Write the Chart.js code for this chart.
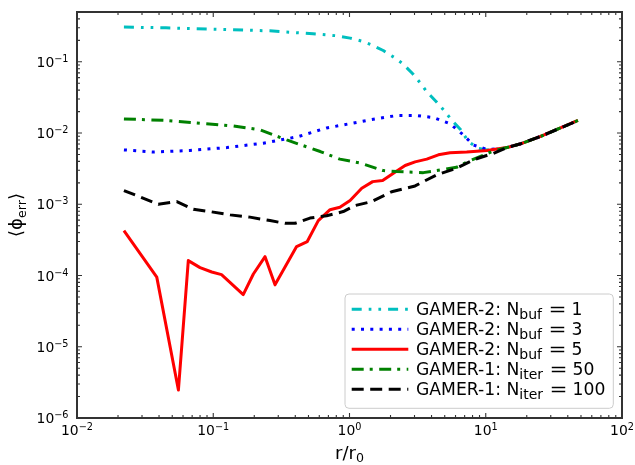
<!DOCTYPE html>
<html>
<head>
<meta charset="utf-8">
<script src="https://cdn.jsdelivr.net/npm/chart.js@4/dist/chart.umd.min.js"></script>
<style>
  html, body { margin: 0; padding: 0; background: #fff; }
  canvas { display: block; }
</style>
</head>
<body>
<canvas id="chart" width="635" height="465"></canvas>
<script>
// axis ranges and decade ticks
const xRange = [0.01, 100];
const yRange = [1e-6, 0.5];
const xTickExps = [-2, -1, 0, 1, 2];
const yTickExps = [-6, -5, -4, -3, -2, -1];

// GAMER-2, N_buf = 1
const rCyan = [0.0221, 0.045, 0.14, 0.26, 0.54, 0.805, 1.01, 1.26, 1.45, 1.77, 2.16, 2.46, 2.91, 3.35, 3.69, 4.32, 5.02, 5.53, 6.55, 7.45, 8.82, 10.2, 12.7];
const phiCyan = [0.307, 0.300, 0.281, 0.272, 0.247, 0.232, 0.215, 0.193, 0.173, 0.144, 0.113, 0.094, 0.068, 0.049, 0.038, 0.0277, 0.020, 0.0158, 0.0111, 0.0076, 0.0061, 0.0058, 0.0060];

// GAMER-2, N_buf = 3
const rBlue = [0.0221, 0.0363, 0.0675, 0.126, 0.233, 0.42, 0.68, 0.90, 1.41, 2.22, 3.11, 4.12, 5.47, 6.85, 8.1, 10.2, 12.7];
const phiBlue = [0.0058, 0.0054, 0.0057, 0.00625, 0.0072, 0.0089, 0.0118, 0.0130, 0.0153, 0.0176, 0.0176, 0.0165, 0.0135, 0.0094, 0.0068, 0.0059, 0.0060];

// GAMER-2, N_buf = 5
const rRed = [0.0221, 0.0385, 0.0555, 0.0656, 0.080, 0.0975, 0.115, 0.166, 0.197, 0.240, 0.284, 0.409, 0.49, 0.59, 0.72, 0.85, 1.01, 1.23, 1.48, 1.75, 2.10, 2.56, 3.03, 3.69, 4.49, 5.47, 7.25, 10.2];
const phiRed = [4.27e-4, 9.5e-5, 2.47e-6, 1.62e-4, 1.29e-4, 1.12e-4, 1.03e-4, 5.4e-5, 1.05e-4, 1.84e-4, 7.4e-5, 2.55e-4, 3.0e-4, 5.9e-4, 8.4e-4, 9.1e-4, 1.13e-3, 1.68e-3, 2.08e-3, 2.15e-3, 2.73e-3, 3.5e-3, 3.94e-3, 4.3e-3, 4.95e-3, 5.3e-3, 5.4e-3, 5.7e-3];

// GAMER-1, N_iter = 50
const rGreen = [0.0221, 0.0455, 0.14, 0.22, 0.346, 0.61, 0.85, 1.19, 1.77, 2.22, 3.48, 6.1, 7.65, 11.4];
const phiGreen = [0.0158, 0.0150, 0.0126, 0.0111, 0.0080, 0.0055, 0.0043, 0.0038, 0.00297, 0.00288, 0.00278, 0.0033, 0.0041, 0.0056];

// GAMER-1, N_iter = 100
const rBlack = [0.0221, 0.0395, 0.054, 0.0715, 0.0946, 0.133, 0.186, 0.261, 0.337, 0.398, 0.513, 0.68, 0.90, 1.10, 1.45, 2.04, 3.03, 4.36, 6.1, 8.1, 11.4];
const phiBlack = [1.56e-3, 1.0e-3, 1.09e-3, 8.5e-4, 7.9e-4, 7.1e-4, 6.6e-4, 5.9e-4, 5.4e-4, 5.4e-4, 6.4e-4, 6.9e-4, 7.9e-4, 9.6e-4, 1.09e-3, 1.5e-3, 1.81e-3, 2.59e-3, 3.2e-3, 4.2e-3, 5.2e-3];

// all runs agree at large radius
const rTail = [14.3, 17.8, 25, 35, 47.5];
const phiTail = [0.00625, 0.0070, 0.0089, 0.0117, 0.0150];

// legend text: [main, subscript, value]
const legendLabels = [
  ['GAMER-2: N', 'buf', '1'],
  ['GAMER-2: N', 'buf', '3'],
  ['GAMER-2: N', 'buf', '5'],
  ['GAMER-1: N', 'iter', '50'],
  ['GAMER-1: N', 'iter', '100']
];

const FONT = '"DejaVu Sans", sans-serif';
const pts = (rs, ys) => rs.concat(rTail).map((r, i) => ({ x: r, y: ys.concat(phiTail)[i] }));

function mkSet(rs, ys, color, dash, order){
  return { data: pts(rs, ys), borderColor: color, borderWidth: 3, borderDash: dash, borderCapStyle: 'butt', borderJoinStyle: 'round', showLine: true, pointRadius: 0, tension: 0, order: order, fill: false };
}

// draw a run of [text, size, dy] pieces starting at x
function drawRuns(ctx, parts, x, y, doDraw){
  let cx = x;
  for (const p of parts){
    ctx.font = p[1] + 'px ' + FONT;
    if (doDraw) ctx.fillText(p[0], cx, y + p[2]);
    cx += ctx.measureText(p[0]).width;
  }
  return cx - x;
}
const expText = e => e < 0 ? '\u2212' + (-e) : String(e);

const mplAxes = {
  id: 'mplAxes',
  afterDatasetsDraw(chart){
    const ctx = chart.ctx, a = chart.chartArea;
    const xs = chart.scales.x, ys = chart.scales.y;
    ctx.save();
    ctx.strokeStyle = '#333';
    ctx.lineWidth = 1.1;
    ctx.beginPath();
    // x ticks, inward on bottom and top
    for (let e = -2; e <= 2; e++){
      for (let m = 1; m <= 9; m++){
        const v = m * Math.pow(10, e);
        if (v < xRange[0] || v > xRange[1]) continue;
        const px = xs.getPixelForValue(v), len = m === 1 ? 5 : 3;
        ctx.moveTo(px, a.bottom); ctx.lineTo(px, a.bottom - len);
        ctx.moveTo(px, a.top); ctx.lineTo(px, a.top + len);
      }
    }
    // y ticks, inward on left and right
    for (let e = -6; e <= -1; e++){
      for (let m = 1; m <= 9; m++){
        const v = m * Math.pow(10, e);
        if (v < yRange[0] || v > yRange[1]) continue;
        const py = ys.getPixelForValue(v), len = m === 1 ? 5 : 3;
        ctx.moveTo(a.left, py); ctx.lineTo(a.left + len, py);
        ctx.moveTo(a.right, py); ctx.lineTo(a.right - len, py);
      }
    }
    ctx.stroke();
    ctx.lineWidth = 2;
    ctx.strokeRect(a.left, a.top, a.right - a.left, a.bottom - a.top);

    // tick labels
    ctx.fillStyle = '#000';
    ctx.textBaseline = 'alphabetic';
    ctx.textAlign = 'left';
    xTickExps.forEach(e => {
      const parts = [['10', 13.9, 0], [expText(e), 9.7, -5]];
      const w = drawRuns(ctx, parts, 0, 0, false);
      const px = xs.getPixelForValue(Math.pow(10, e));
      drawRuns(ctx, parts, px - w / 2, a.bottom + 16.5, true);
    });
    yTickExps.forEach(e => {
      const parts = [['10', 13.9, 0], [expText(e), 9.7, -5]];
      const w = drawRuns(ctx, parts, 0, 0, false);
      const py = ys.getPixelForValue(Math.pow(10, e));
      drawRuns(ctx, parts, a.left - 8.5 - w, py + 5, true);
    });

    // axis titles
    const xt = [['r/r', 18, 0], ['0', 12.6, 2.7]];
    const xw = drawRuns(ctx, xt, 0, 0, false);
    drawRuns(ctx, xt, (a.left + a.right) / 2 - xw / 2, 459, true);
    const yt = [['\u27E8\u03D5', 18, 0], ['err', 12.6, 3.5], ['\u27E9', 18, 0]];
    const yw = drawRuns(ctx, yt, 0, 0, false);
    ctx.translate(22, (a.top + a.bottom) / 2);
    ctx.rotate(-Math.PI / 2);
    drawRuns(ctx, yt, -yw / 2, 0, true);
    ctx.restore();
  },
  afterDraw(chart){
    const ctx = chart.ctx;
    const sets = chart.data.datasets;
    ctx.save();
    ctx.beginPath();
    ctx.roundRect(345, 294, 268.3, 114.3, 4);
    ctx.fillStyle = 'rgba(255,255,255,0.8)';
    ctx.fill();
    ctx.strokeStyle = '#cccccc';
    ctx.lineWidth = 1;
    ctx.stroke();
    legendLabels.forEach((lab, i) => {
      const ds = sets[i];
      const base = 315.3 + i * 20;
      ctx.beginPath();
      ctx.setLineDash(ds.borderDash);
      ctx.lineCap = 'butt';
      ctx.strokeStyle = ds.borderColor;
      ctx.lineWidth = ds.borderWidth;
      ctx.moveTo(351.7, base - 6);
      ctx.lineTo(408.3, base - 6);
      ctx.stroke();
      ctx.setLineDash([]);
      ctx.fillStyle = '#000';
      const w = drawRuns(ctx, [[lab[0], 17.2, 0], [lab[1], 14, 4]], 416, base, true);
      const subEnd = 416 + w;
      // relation sign, set a little wider as in math text
      ctx.save();
      ctx.font = '17.2px ' + FONT;
      ctx.textAlign = 'center';
      ctx.translate(subEnd + 15.5, base);
      ctx.scale(1.25, 1);
      ctx.fillText('=', 0, 0);
      ctx.restore();
      ctx.font = '17.2px ' + FONT;
      ctx.fillText(lab[2], subEnd + 29.5, base);
    });
    ctx.restore();
  }
};

new Chart(document.getElementById('chart'), {
  type: 'scatter',
  data: {
    datasets: [
      mkSet(rCyan, phiCyan, '#00bfbf', [10, 7, 2.7, 7, 2.7, 7], 5),
      mkSet(rBlue, phiBlue, '#0000ff', [3, 6.3], 4),
      mkSet(rRed, phiRed, '#ff0000', [], 3),
      mkSet(rGreen, phiGreen, '#008000', [12, 6, 3, 6.5], 2),
      mkSet(rBlack, phiBlack, '#000000', [12, 6.5], 1)
    ]
  },
  options: {
    responsive: false,
    animation: false,
    devicePixelRatio: 1,
    layout: { padding: { left: 77, right: 13, top: 12, bottom: 47 } },
    plugins: { legend: { display: false }, tooltip: { enabled: false } },
    scales: {
      x: { type: 'logarithmic', min: xRange[0], max: xRange[1], display: false },
      y: { type: 'logarithmic', min: yRange[0], max: yRange[1], display: false }
    }
  },
  plugins: [mplAxes]
});
</script>
</body>
</html>
